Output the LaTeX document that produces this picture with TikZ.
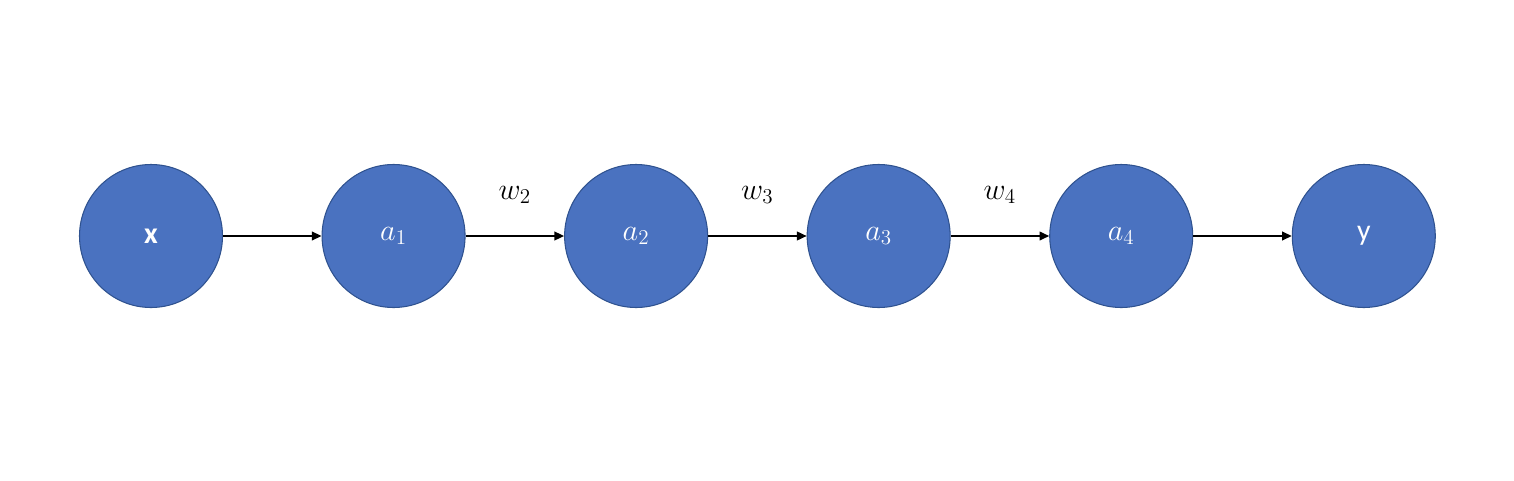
\documentclass[tikz,border=0pt]{standalone}
\usepackage{fontspec}
\setmainfont{Carlito}
\usetikzlibrary{calc,arrows.meta,positioning}

\definecolor{unitfill}{HTML}{4A72C0}
\definecolor{unitedge}{HTML}{2F528F}

\tikzset{
  unit/.style={circle,fill=unitfill,draw=unitedge,line width=0.6pt,minimum size=2.86cm,inner sep=0pt,text=white,font=\fontsize{17}{19}\selectfont},
  link/.style={-{Triangle[length=5.5pt,width=5pt]},line width=0.8pt},
  wlabel/.style={font=\fontsize{17}{19}\selectfont}
}

\begin{document}
\begin{tikzpicture}
\useasboundingbox (0,0) rectangle (30.28,9.6);
% ---- chain of units
\node[unit] (x) at (3.02,4.88) {\textbf{x}};
\node[unit,right=1.97cm of x] (a1) {$a_1$};
\node[unit,right=1.97cm of a1] (a2) {$a_2$};
\node[unit,right=1.97cm of a2] (a3) {$a_3$};
\node[unit,right=1.97cm of a3] (a4) {$a_4$};
\node[unit,right=1.97cm of a4] (y) {y};
% ---- connections
\draw[link] (x) -- (a1);
\draw[link] (a1) -- (a2);
\draw[link] (a2) -- (a3);
\draw[link] (a3) -- (a4);
\draw[link] (a4) -- (y);
% ---- weights
\node[wlabel] (w2) at ($(a1)!0.5!(a2)+(0,0.82)$) {$w_2$};
\node[wlabel] (w3) at ($(a2)!0.5!(a3)+(0,0.82)$) {$w_3$};
\node[wlabel] (w4) at ($(a3)!0.5!(a4)+(0,0.82)$) {$w_4$};
\end{tikzpicture}
\end{document}
